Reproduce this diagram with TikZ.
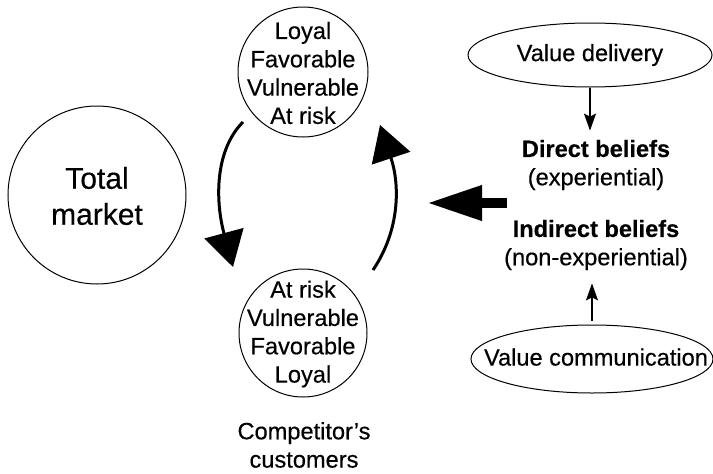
\documentclass[tikz,border=0pt]{standalone}
\usepackage{fontspec}
\setmainfont{Liberation Sans}[FakeBold=0.4]
\usetikzlibrary{arrows.meta,shapes.geometric,calc}
\begin{document}
\begin{tikzpicture}[x=1pt,y=-1pt,
  circ/.style={draw, circle, line width=1pt, inner sep=0pt},
  oval/.style={draw, ellipse, line width=1pt, inner sep=0pt},
  txt/.style={align=center, inner sep=0pt, font=\fontsize{23.6}{28.3}\selectfont},
  cyc/.style={line width=3pt, -{Triangle[length=35pt,width=40pt]}},
  thinarr/.style={line width=1.5pt, -{Stealth[length=17pt,width=12pt,inset=3pt]}},
  bigarr/.style={line width=10pt, -{Triangle[length=55pt,width=33pt]}}
]
\useasboundingbox (0,0) rectangle (713,474);

% Total market
\node[circ, minimum size=178pt] (tm) at (97,195) {};
\node[txt, font=\fontsize{30}{36}\selectfont] (tmt) at (97,196) {Total\\market};

% cycle circles
\node[circ, minimum size=130pt] (top) at (303,72) {};
\node[txt] (topt) at (303,73) {Loyal\\Favorable\\Vulnerable\\At risk};
\node[circ, minimum size=128pt] (bot) at (303,333) {};
\node[txt] (bott) at (303,334) {At risk\\Vulnerable\\Favorable\\Loyal};
\node[txt] (comp) at (304,445) {Competitor's\\customers};

% cycle arrows
\draw[cyc] ($(top)+(-60,50)$) .. controls ($(top)+(-88,78)$) and ($(top)+(-88,128)$) .. ($(bot)+(-70,-66)$);
\draw[cyc] ($(bot)+(70,-63)$) .. controls ($(bot)+(97,-103)$) and ($(top)+(97,113)$) .. ($(top)+(77,53)$);

% right side
\node[oval, minimum width=244pt, minimum height=64pt, font=\fontsize{23.6}{28.3}\selectfont] (vd) at (590,55) {Value delivery};
\node[txt] (dir) at (596,165) {\bfseries Direct beliefs\\(experiential)};
\node[txt] (ind) at (596,245) {\bfseries Indirect beliefs\\(non-experiential)};
\node[oval, minimum width=242pt, minimum height=68pt, font=\fontsize{23.6}{28.3}\selectfont] (vc) at (592,359) {\makebox[0pt]{\hspace{8pt}\raisebox{4pt}{Value communication}}};

\draw[thinarr, shorten >=9pt] (vd.south) -- (vd.south |- dir.north);
\draw[thinarr, shorten >=13pt, shorten <=4pt] (vc.north) -- (vc.north |- ind.south);

% big arrow
\coordinate (ba1) at (507,203);
\coordinate (ba2) at (427,203);
\draw[bigarr] (ba1) -- (ba2);
\end{tikzpicture}
\end{document}
